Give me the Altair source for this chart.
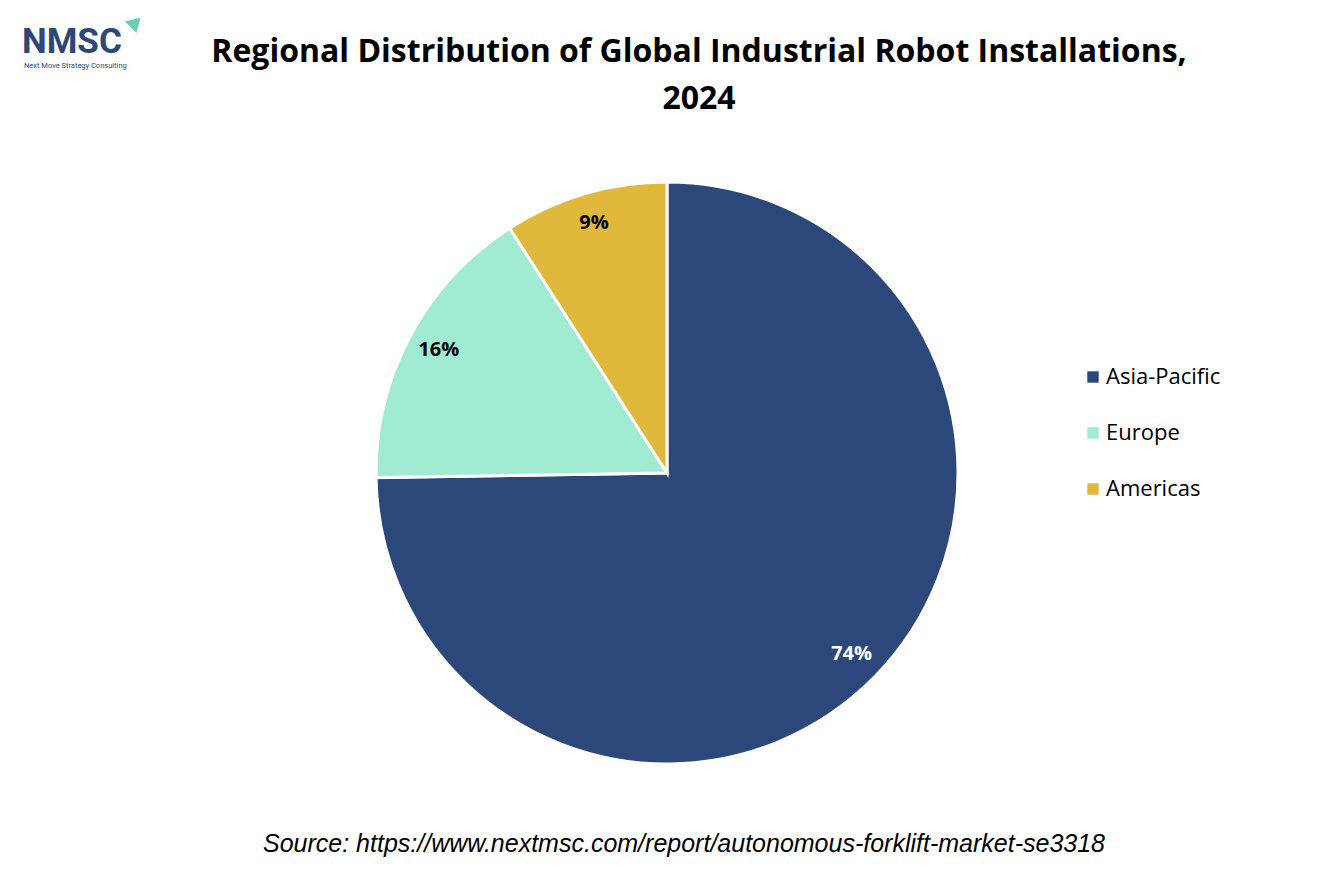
import altair as alt
import pandas as pd

regions = ["Asia-Pacific", "Europe", "Americas"]
shares = [74, 16, 9]
colors = ["#2C4779", "#A1EBD3", "#E0B83C"]
label_colors = ["white", "black", "black"]

title_lines = ["Regional Distribution of Global Industrial Robot Installations,", "2024"]
source_text = "Source: https://www.nextmsc.com/report/autonomous-forklift-market-se3318"

W, H = 1318, 873
CX, CY = 659, 465

df = pd.DataFrame({
    "region": regions,
    "value": shares,
    "idx": list(range(len(regions))),
    "label": [f"{v}%" for v in shares],
    "tcolor": label_colors,
})

base = alt.Chart(df).encode(
    theta=alt.Theta("value:Q", stack=True),
    order=alt.Order("idx:Q"),
)

arcs = base.mark_arc(radius=291, stroke="white", strokeWidth=3).encode(
    color=alt.Color(
        "region:N",
        scale=alt.Scale(domain=regions, range=colors),
        sort=regions,
        legend=alt.Legend(
            title=None, orient="none", legendX=1074, legendY=358,
            symbolType="square", symbolSize=130, symbolStrokeWidth=0,
            labelFontSize=22, labelFont="Open Sans", labelColor="#000000",
            rowPadding=34, labelOffset=2,
        ),
    ),
    x=alt.value(CX), y=alt.value(CY),
)

labels = base.mark_text(radius=259, fontSize=20, fontWeight="bold", font="Open Sans").encode(
    text="label:N",
    color=alt.Color("tcolor:N", scale=None),
    x=alt.value(CX), y=alt.value(CY - 1),
)

def text_layer(txt, x, y, size, weight="normal", style="normal", color="#000000",
               font="Lato", align="center", baseline="middle"):
    return alt.Chart(pd.DataFrame({"t": [txt]})).mark_text(
        fontSize=size, fontWeight=weight, fontStyle=style, color=color, font=font,
        align=align, baseline=baseline,
    ).encode(text="t:N", x=alt.value(x), y=alt.value(y))

t1 = text_layer(title_lines[0], 691, 44, 32, weight="bold", font="Open Sans")
t2 = text_layer(title_lines[1], 691, 91, 32, weight="bold", font="Open Sans")
src = text_layer(source_text, 676, 836, 25, style="italic", font="Liberation Sans")

logo = text_layer("NMSC", 14, 45, 35, weight="bold", color="#2C4779", font="Roboto",
                  align="left", baseline="alphabetic")
logo_sub = text_layer("Next Move Strategy Consulting", 16, 60, 7.5, color="#2C4779", font="Roboto",
                      align="left", baseline="alphabetic")
logo_tri = alt.Chart(pd.DataFrame({"t": [1]})).mark_point(
    shape="triangle", filled=True, size=260, color="#5BC8A8", angle=45, opacity=0.9
).encode(x=alt.value(126), y=alt.value(16))

chart = alt.layer(arcs, labels, t1, t2, src, logo, logo_sub, logo_tri).properties(
    width=W, height=H,
    autosize=alt.AutoSizeParams(type="none"),
    padding=0,
).configure_view(stroke=None)

chart.save("out.html", embed_options={"renderer": "svg", "actions": False})
